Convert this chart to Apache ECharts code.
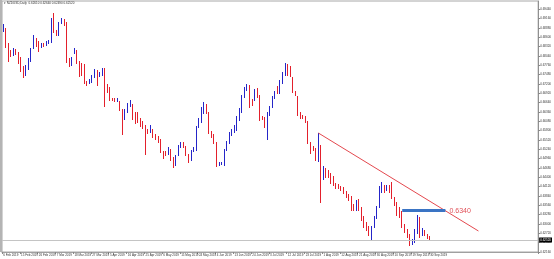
<!DOCTYPE html>
<html><head><meta charset="utf-8">
<script src="https://cdn.jsdelivr.net/npm/echarts@6/dist/echarts.min.js"></script>
<style>html,body{margin:0;padding:0;background:#fff}#c{width:554px;height:259px}</style>
</head><body><div id="c"></div>
<script>
const symbolTitle = 'NZDUSD,Daily';
const firstDate = '2019-02-06';
const futureBars = 42;

const opens = [0.6882,0.6882,0.6837,0.6816,0.6810,0.6822,0.6813,0.6798,0.6768,0.6750,
0.6768,0.6792,0.6828,0.6849,0.6843,0.6831,0.6837,0.6837,0.6843,0.6846,
0.6912,0.6876,0.6867,0.6903,0.6909,0.6903,0.6792,0.6780,0.6816,0.6816,
0.6786,0.6780,0.6774,0.6726,0.6723,0.6726,0.6741,0.6756,0.6744,0.6747,
0.6762,0.6717,0.6705,0.6675,0.6675,0.6669,0.6666,0.6642,0.6618,0.6636,
0.6654,0.6657,0.6627,0.6618,0.6612,0.6603,0.6591,0.6579,0.6576,0.6582,
0.6567,0.6561,0.6552,0.6516,0.6513,0.6513,0.6522,0.6498,0.6480,0.6507,
0.6534,0.6540,0.6531,0.6507,0.6492,0.6519,0.6522,0.6591,0.6606,0.6636,
0.6654,0.6633,0.6573,0.6564,0.6543,0.6477,0.6480,0.6477,0.6522,0.6543,
0.6567,0.6576,0.6582,0.6612,0.6636,0.6681,0.6702,0.6714,0.6672,0.6672,
0.6702,0.6681,0.6618,0.6618,0.6591,0.6627,0.6651,0.6678,0.6708,0.6693,
0.6723,0.6747,0.6774,0.6768,0.6738,0.6696,0.6681,0.6633,0.6624,0.6621,
0.6606,0.6543,0.6531,0.6522,0.6513,0.6531,0.6438,0.6462,0.6456,0.6447,
0.6441,0.6420,0.6417,0.6411,0.6408,0.6396,0.6387,0.6381,0.6357,0.6342,
0.6372,0.6348,0.6321,0.6303,0.6291,0.6267,0.6291,0.6318,0.6351,0.6396,
0.6411,0.6402,0.6411,0.6423,0.6378,0.6363,0.6348,0.6333,0.6297,0.6282,
0.6267,0.6243,0.6246,0.6273,0.6291,0.6267,0.6276,0.6267,0.6261];

const closes = [0.6891,0.6834,0.6798,0.6807,0.6822,0.6813,0.6786,0.6762,0.6747,0.6774,
0.6792,0.6822,0.6843,0.6837,0.6822,0.6837,0.6834,0.6843,0.6849,0.6912,
0.6876,0.6867,0.6903,0.6912,0.6897,0.6786,0.6774,0.6798,0.6822,0.6783,
0.6744,0.6747,0.6723,0.6717,0.6732,0.6744,0.6759,0.6717,0.6753,0.6762,
0.6723,0.6696,0.6672,0.6672,0.6669,0.6675,0.6642,0.6576,0.6642,0.6657,
0.6666,0.6618,0.6606,0.6609,0.6594,0.6588,0.6576,0.6576,0.6585,0.6561,
0.6555,0.6549,0.6516,0.6498,0.6510,0.6528,0.6492,0.6477,0.6504,0.6534,
0.6543,0.6531,0.6507,0.6486,0.6519,0.6525,0.6591,0.6612,0.6642,0.6654,
0.6633,0.6573,0.6561,0.6543,0.6477,0.6483,0.6483,0.6522,0.6543,0.6570,
0.6582,0.6588,0.6618,0.6642,0.6681,0.6708,0.6714,0.6663,0.6660,0.6702,
0.6681,0.6612,0.6615,0.6591,0.6633,0.6651,0.6681,0.6696,0.6693,0.6726,
0.6753,0.6777,0.6747,0.6747,0.6696,0.6687,0.6627,0.6618,0.6618,0.6606,
0.6543,0.6513,0.6522,0.6492,0.6543,0.6432,0.6468,0.6441,0.6444,0.6423,
0.6417,0.6408,0.6408,0.6402,0.6393,0.6381,0.6372,0.6342,0.6342,0.6366,
0.6342,0.6312,0.6291,0.6282,0.6267,0.6291,0.6321,0.6351,0.6411,0.6411,
0.6396,0.6411,0.6396,0.6378,0.6357,0.6327,0.6321,0.6291,0.6276,0.6261,
0.6237,0.6252,0.6282,0.6297,0.6261,0.6282,0.6267,0.6258,0.6252];

const lows = [0.6876,0.6828,0.6786,0.6801,0.6804,0.6807,0.6780,0.6756,0.6738,0.6744,
0.6762,0.6786,0.6825,0.6831,0.6816,0.6828,0.6831,0.6834,0.6840,0.6843,
0.6873,0.6864,0.6864,0.6900,0.6894,0.6783,0.6771,0.6774,0.6810,0.6780,
0.6741,0.6744,0.6720,0.6714,0.6720,0.6723,0.6738,0.6714,0.6741,0.6744,
0.6651,0.6693,0.6669,0.6669,0.6666,0.6666,0.6639,0.6567,0.6612,0.6633,
0.6651,0.6612,0.6600,0.6603,0.6591,0.6585,0.6507,0.6570,0.6573,0.6558,
0.6552,0.6543,0.6513,0.6495,0.6504,0.6507,0.6489,0.6468,0.6474,0.6504,
0.6528,0.6528,0.6504,0.6483,0.6489,0.6516,0.6519,0.6588,0.6603,0.6630,
0.6630,0.6570,0.6558,0.6540,0.6471,0.6474,0.6477,0.6474,0.6519,0.6540,
0.6564,0.6573,0.6579,0.6609,0.6633,0.6678,0.6699,0.6648,0.6654,0.6669,
0.6678,0.6609,0.6612,0.6588,0.6552,0.6624,0.6648,0.6675,0.6690,0.6690,
0.6720,0.6744,0.6744,0.6741,0.6693,0.6684,0.6624,0.6615,0.6615,0.6603,
0.6540,0.6510,0.6519,0.6489,0.6486,0.6363,0.6432,0.6438,0.6438,0.6420,
0.6414,0.6405,0.6405,0.6399,0.6390,0.6378,0.6369,0.6339,0.6339,0.6339,
0.6339,0.6309,0.6288,0.6279,0.6264,0.6252,0.6288,0.6315,0.6348,0.6393,
0.6393,0.6399,0.6393,0.6375,0.6354,0.6324,0.6318,0.6288,0.6273,0.6258,
0.6234,0.6237,0.6243,0.6270,0.6258,0.6264,0.6264,0.6255,0.6249];

const highs = [0.6900,0.6888,0.6843,0.6822,0.6828,0.6825,0.6816,0.6801,0.6774,0.6777,
0.6798,0.6828,0.6867,0.6858,0.6849,0.6843,0.6843,0.6849,0.6852,0.6918,
0.6933,0.6882,0.6906,0.6918,0.6915,0.6906,0.6798,0.6801,0.6828,0.6822,
0.6789,0.6783,0.6780,0.6729,0.6735,0.6747,0.6765,0.6762,0.6756,0.6768,
0.6768,0.6720,0.6711,0.6678,0.6678,0.6678,0.6669,0.6645,0.6645,0.6663,
0.6672,0.6660,0.6636,0.6636,0.6618,0.6609,0.6597,0.6585,0.6597,0.6585,
0.6570,0.6564,0.6555,0.6519,0.6519,0.6531,0.6525,0.6501,0.6507,0.6537,
0.6546,0.6546,0.6534,0.6510,0.6522,0.6531,0.6594,0.6618,0.6651,0.6666,
0.6660,0.6636,0.6579,0.6570,0.6546,0.6486,0.6486,0.6525,0.6549,0.6576,
0.6585,0.6597,0.6624,0.6648,0.6687,0.6711,0.6720,0.6717,0.6675,0.6705,
0.6708,0.6687,0.6624,0.6621,0.6636,0.6654,0.6684,0.6699,0.6714,0.6732,
0.6756,0.6783,0.6780,0.6774,0.6741,0.6699,0.6684,0.6636,0.6627,0.6624,
0.6609,0.6546,0.6534,0.6528,0.6573,0.6537,0.6474,0.6468,0.6462,0.6453,
0.6444,0.6423,0.6420,0.6414,0.6411,0.6399,0.6390,0.6384,0.6360,0.6372,
0.6375,0.6351,0.6324,0.6306,0.6294,0.6294,0.6324,0.6354,0.6414,0.6426,
0.6417,0.6417,0.6417,0.6426,0.6381,0.6366,0.6351,0.6339,0.6300,0.6285,
0.6270,0.6255,0.6285,0.6327,0.6321,0.6288,0.6282,0.6270,0.6264];

const yMin = 0.6216, yMax = 0.6969, yStep = 0.0028;
const trendStart = {bar: 124, price: 0.6573};
const trendEnd = {bar: 187, price: 0.6279};
const level = {fromBar: 157, toBar: 174, price: 0.6340, text: '0.6340'};

const monthNames = ['Jan','Feb','Mar','Apr','May','Jun','Jul','Aug','Sep','Oct','Nov','Dec'];
const dates = [];
let dt = new Date(firstDate + 'T00:00:00Z');
while (dates.length < opens.length + futureBars) {
  const wd = dt.getUTCDay();
  if (wd !== 0 && wd !== 6) dates.push(dt.getUTCDate() + ' ' + monthNames[dt.getUTCMonth()] + ' ' + dt.getUTCFullYear());
  dt = new Date(dt.getTime() + 86400000);
}
const n = opens.length;
const candles = opens.map((o, i) => [o, closes[i], lows[i], highs[i]]);
const last = n - 1;
const lastPrice = closes[last];
const f5 = v => v.toFixed(5);
const showIdx = (i) => i % 7 === 0 && i < n;

const chart = echarts.init(document.getElementById('c'), null, {renderer: 'canvas'});
chart.setOption({
  animation: false,
  backgroundColor: '#ffffff',
  textStyle: {fontFamily: 'Liberation Sans, Arial, sans-serif'},
  grid: {left: 2, right: 13, top: 1, bottom: 7, show: true, borderColor: '#a8a8a8', borderWidth: 1},
  graphic: [
    {type: 'rect', left: 0, top: 0, shape: {width: 2, height: 252}, style: {fill: '#b4b4b4'}, silent: true},
    {type: 'text', left: 4, top: 2, style: {
      text: '\u25BE ' + symbolTitle + '  ' + f5(opens[last]) + ' ' + f5(highs[last]) + ' ' + f5(lows[last]) + ' ' + f5(closes[last]),
      fill: '#333', fontSize: 3, fontFamily: 'Liberation Sans, Arial, sans-serif'}}
  ],
  xAxis: {
    type: 'category', data: dates, boundaryGap: true,
    axisLine: {show: true, lineStyle: {color: '#a0a0a0', width: 1}},
    axisTick: {show: true, interval: showIdx, length: 2, lineStyle: {color: '#888'}},
    axisLabel: {show: true, interval: showIdx, fontSize: 3, color: '#333', margin: 2, align: 'left',
      formatter: (v, i) => (i < n ? v : '')},
    splitLine: {show: false}
  },
  yAxis: {
    type: 'value', position: 'right', scale: true,
    min: yMin, max: yMax, interval: yStep,
    axisLine: {show: true, lineStyle: {color: '#909090', width: 1}},
    axisTick: {show: true, length: 2, lineStyle: {color: '#888'}},
    axisLabel: {fontSize: 3, color: '#333', margin: 2, showMaxLabel: false, formatter: f5},
    splitLine: {show: false}
  },
  series: [{
    type: 'candlestick',
    data: candles,
    barWidth: 1,
    itemStyle: {color: '#2525c8', color0: '#e3202c', borderColor: '#2525c8', borderColor0: '#e3202c', borderWidth: 1},
    markLine: {
      silent: true, symbol: ['none', 'none'], animation: false, precision: 5,
      data: [
        {yAxis: lastPrice, lineStyle: {color: '#c4c4c4', width: 1, type: 'solid'},
          label: {show: true, position: 'end', formatter: f5(lastPrice), backgroundColor: '#000', color: '#fff',
            fontSize: 3, padding: [1, 1], distance: 1}},
        [
          {coord: [dates[trendStart.bar], trendStart.price], lineStyle: {color: '#e4484e', width: 1, type: 'solid'}, label: {show: false}},
          {coord: [dates[trendEnd.bar], trendEnd.price]}
        ],
        [
          {coord: [dates[level.fromBar], level.price], lineStyle: {color: '#3a74c4', width: 3, type: 'solid'},
            label: {show: true, position: 'end', formatter: level.text, color: '#e05058', fontSize: 7, distance: 4}},
          {coord: [dates[level.toBar], level.price]}
        ]
      ]
    }
  }]
});
</script>
</body></html>
